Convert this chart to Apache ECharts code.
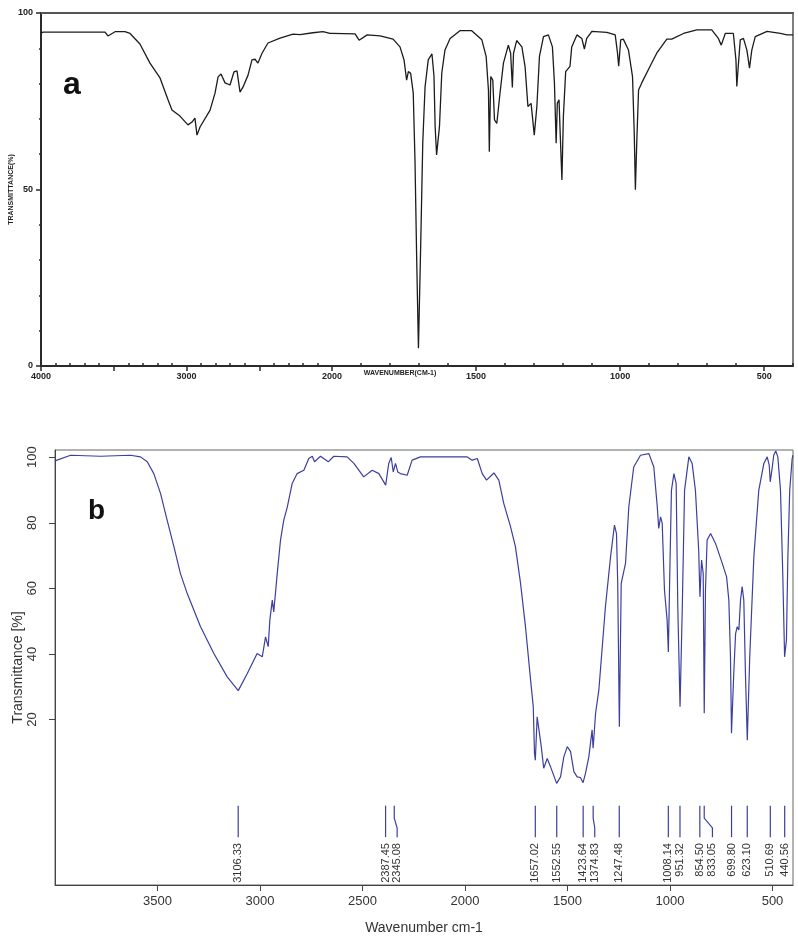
<!DOCTYPE html>
<html>
<head>
<meta charset="utf-8">
<title>IR spectra a / b</title>
<script src="https://cdn.jsdelivr.net/npm/echarts@6/dist/echarts.min.js"></script>
<style>
  html, body { margin: 0; padding: 0; background: #fff; }
  #main { width: 798px; height: 942px; }
</style>
</head>
<body>
<div id="main"></div>
<script>
// spectrum a (black), wavenumber cm-1 / transmittance %
const wnA = [4000, 3985, 3560, 3540, 3491, 3423, 3388, 3320, 3251, 3182, 3127, 3100, 3045, 2990, 2962, 2942, 2928, 2907, 2838, 2804,
  2783, 2763, 2735, 2701, 2674, 2653, 2632, 2612, 2577, 2550, 2529, 2509, 2481, 2440, 2357, 2268, 2220, 2131, 2062, 2014,
  2000, 1920, 1906, 1878, 1833, 1788, 1764, 1750, 1741, 1735, 1727, 1718, 1712, 1706, 1700, 1692, 1685, 1677, 1666, 1653,
  1646, 1642, 1637, 1627, 1619, 1608, 1590, 1556, 1515, 1480, 1465, 1457, 1454, 1449, 1442, 1436, 1428, 1417, 1405, 1388,
  1380, 1374, 1370, 1359, 1341, 1330, 1320, 1309, 1298, 1289, 1280, 1266, 1249, 1235, 1228, 1222, 1218, 1212, 1208, 1202,
  1197, 1189, 1174, 1168, 1150, 1133, 1124, 1116, 1098, 1046, 1017, 1009, 1005, 998, 989, 971, 957, 951, 947, 942,
  936, 925, 896, 873, 838, 821, 780, 734, 682, 659, 649, 635, 607, 598, 595, 590, 583, 572, 560, 551,
  543, 531, 490, 444, 421, 400];
const tA = [94.3, 94.6, 94.6, 93.5, 94.7, 94.7, 94.2, 91.2, 85.8, 81.6, 75.4, 72.5, 70.8, 68.3, 69.1, 70.2, 65.4, 67.7, 72.5, 77.3,
  81.9, 82.7, 80.2, 79.6, 83.3, 83.6, 77.6, 79, 82.4, 86.7, 86.9, 85.8, 88.6, 91.5, 92.9, 94, 93.9, 94.4, 94.7, 94.2,
  94.2, 94.1, 92.3, 93.8, 93.5, 92.6, 90.4, 86.7, 81, 83.4, 82.9, 77.3, 58.4, 30, 5, 34.8, 63.2, 79.1, 86.7, 88.4,
  82, 67.8, 59.8, 67.8, 83, 89.5, 92.8, 95, 95, 92.4, 87.7, 78.2, 60.7, 82, 81, 69.7, 68.7, 77.2, 85.8, 90.9,
  88.6, 78.9, 88.6, 92.2, 90.4, 84.9, 73.5, 74.4, 65.4, 73.5, 87.7, 93.3, 93.8, 90.4, 80.2, 63.1, 74.4, 75.4, 65.9, 52.7,
  70.6, 83.4, 84.9, 90.4, 93.8, 92.8, 89.8, 92.8, 94.8, 94.5, 93.8, 88.6, 84.9, 92.4, 92.6, 89.5, 82, 66, 49.9, 64,
  78.2, 80.2, 84.9, 88.6, 92.6, 92.6, 94.2, 95.2, 95.2, 92.8, 90.9, 94.2, 94.2, 86.7, 79.2, 84.9, 92.4, 92.8, 89.5, 84.4,
  89.5, 93.3, 94.8, 94.2, 93.8, 93.8];

// spectrum b (blue)
const wnB = [4000, 3924, 3778, 3632, 3583, 3550, 3518, 3485, 3453, 3420, 3388, 3355, 3290, 3225, 3160, 3106, 3062, 3014, 2989, 2973,
  2960, 2952, 2940, 2933, 2916, 2900, 2884, 2867, 2843, 2819, 2786, 2762, 2745, 2734, 2705, 2667, 2640, 2575, 2542, 2494,
  2453, 2420, 2387, 2372, 2360, 2350, 2339, 2328, 2315, 2282, 2258, 2217, 2087, 1989, 1965, 1940, 1916, 1895, 1859, 1835,
  1811, 1778, 1754, 1729, 1705, 1680, 1667, 1661, 1657, 1648, 1640, 1628, 1616, 1599, 1583, 1553, 1534, 1518, 1501, 1485,
  1469, 1453, 1437, 1424, 1412, 1396, 1380, 1375, 1363, 1347, 1315, 1290, 1271, 1261, 1255, 1247, 1238, 1217, 1201, 1177,
  1144, 1103, 1079, 1062, 1055, 1046, 1038, 1027, 1014, 1008, 1001, 993, 981, 970, 962, 951, 940, 929, 908, 892,
  876, 860, 854, 846, 838, 833, 827, 819, 802, 778, 745, 724, 713, 705, 700, 689, 680, 672, 664, 656,
  648, 640, 632, 623, 611, 591, 567, 542, 526, 516, 511, 501, 494, 484, 474, 461, 450, 441, 432, 425,
  416, 404, 400];
const tB = [98.9, 100.6, 100.3, 100.6, 100.1, 98.6, 95, 88.9, 80.8, 72.7, 64.5, 58.4, 48.3, 40.1, 33, 28.8, 34, 40.1, 39.1, 45.2,
  42.2, 50.3, 56.4, 52.8, 64.5, 74.7, 80.8, 84.8, 92, 95, 96, 99.6, 100.3, 98.6, 100.3, 98.6, 100.3, 100.1, 98.1, 94,
  96, 95, 91.5, 98.1, 99.9, 95.5, 98.1, 95.5, 95, 94.5, 99.1, 100.1, 100.1, 100.1, 99.1, 99.6, 95, 93, 95.2, 93,
  85.9, 78.8, 72.7, 61.5, 48.3, 32, 23.9, 9.7, 7.6, 20.8, 20.8, 11.7, 5.1, 8.1, 5.6, 0.5, 2.5, 8.6, 11.7, 10.2,
  4.1, 2.5, 2.3, 0.7, 3.6, 8.6, 16.8, 11.2, 21.9, 29, 54.4, 69.6, 79.3, 76.7, 61.5, 17.8, 61.5, 67.6, 84.8, 97,
  100.6, 101.1, 97, 84.8, 78.3, 81.8, 79.8, 59.5, 50.3, 40.6, 64.5, 89.9, 95, 92, 54.4, 23.9, 54.4, 89.9, 100.1, 98.1,
  89.9, 71.6, 57.4, 68.6, 64.5, 21.9, 59.5, 74.7, 76.7, 73.7, 67.6, 63.5, 56.4, 39.1, 15.8, 34, 46.2, 48.3, 47.3, 56.4,
  60.5, 56.4, 34, 13.7, 39.1, 69.6, 89.9, 98.1, 100.1, 97.6, 92.5, 97, 100.6, 101.9, 100.1, 89.9, 64.5, 39.1, 44.2, 69.6,
  89.9, 99.6, 100.6];

// picked peaks of b and where their labels sit
const peaksB = [3106.33, 2387.45, 2345.08, 1657.02, 1552.55, 1423.64, 1374.83, 1247.48, 1008.14, 951.32, 854.50, 833.05, 699.80, 623.10, 510.69, 440.56];
const peakLabelAtB = [3106.33, 2387.45, 2331, 1657.02, 1552.55, 1423.64, 1367, 1247.48, 1008.14, 951.32, 854.50, 793, 699.80, 623.10, 510.69, 440.56];

// tick labels
const ticksALeft = [4000, 3000, 2000];
const majorALeft = [4000, 3500, 3000, 2500, 2000];
const ticksARight = [1500, 1000, 500];
const ticksB = [3500, 3000, 2500, 2000, 1500, 1000, 500];
const yTicksB = [20, 40, 60, 80, 100];

const BLUE = '#3c3f9e';
const INK = '#1c1c1c';
const MARK_Y = [-6.3, -10.1, -13.1, -15.9, -17.7]; // peak marker: top, bend, bend, bottom, text

function minorTicks(from, to) {
  const out = [];
  for (let w = from; w <= to; w += 100) if (w % 500 !== 0) out.push(w);
  return out;
}
const plain = v => String(v);

const dataALeft = [], dataARight = [];
for (let i = 0; i < wnA.length; i++) {
  if (wnA[i] >= 2000) dataALeft.push([wnA[i], tA[i]]);
  if (wnA[i] <= 2000) dataARight.push([wnA[i], tA[i]]);
}
const dataB = wnB.map((w, i) => [w, tB[i]]);
const peakData = peaksB.map((p, i) => [p, peakLabelAtB[i]]);

const fontA = '"Liberation Sans", Arial, sans-serif';
const fontB = '"Liberation Sans", Arial, sans-serif';

function aAxes(grid, min, max, major, labels) {
  return [
    {
      gridIndex: grid, type: 'value', min: min, max: max, inverse: true, position: 'bottom',
      axisLine: { onZero: false, lineStyle: { color: '#2a2a2a', width: 2 } },
      axisTick: { customValues: major, length: 5, lineStyle: { color: '#2a2a2a', width: 1.5 } },
      axisLabel: { customValues: labels, formatter: plain, fontSize: 9, fontWeight: 'bold', color: '#222', margin: 6, fontFamily: fontA },
      splitLine: { show: false }
    },
    {
      gridIndex: grid, type: 'value', min: min, max: max, inverse: true, position: 'bottom',
      axisLine: { show: false, onZero: false },
      axisTick: { customValues: minorTicks(min, max), inside: true, length: 3, lineStyle: { color: '#2a2a2a', width: 1.5 } },
      axisLabel: { show: false },
      splitLine: { show: false }
    },
    {
      gridIndex: grid, type: 'value', min: min, max: max, inverse: true, position: 'top',
      axisLine: { onZero: false, lineStyle: { color: '#555', width: 2 } },
      axisTick: { show: false }, axisLabel: { show: false }, splitLine: { show: false }
    }
  ];
}

const chart = echarts.init(document.getElementById('main'), null, { renderer: 'canvas' });

const option = {
  backgroundColor: '#fff',
  animation: false,
  grid: [
    { left: 41, top: 13, width: 291, height: 353, outerBoundsMode: 'none', containLabel: false },
    { left: 332, top: 13, width: 461, height: 353, outerBoundsMode: 'none', containLabel: false },
    { left: 55, top: 450, width: 738, height: 435, outerBoundsMode: 'none', containLabel: false,
      show: true, borderColor: '#666', borderWidth: 1 }
  ],
  xAxis: [
    ...aAxes(0, 2000, 4000, majorALeft, ticksALeft),
    ...aAxes(1, 400, 2000, ticksARight, ticksARight),
    {
      gridIndex: 2, type: 'value', min: 400, max: 4000, inverse: true,
      axisLine: { onZero: false, lineStyle: { color: '#444', width: 1 } },
      axisTick: { customValues: ticksB, length: 6, lineStyle: { color: '#444' } },
      axisLabel: { customValues: ticksB, formatter: plain, fontSize: 13, color: '#333', margin: 10, fontFamily: fontB },
      splitLine: { show: false },
      name: 'Wavenumber cm-1', nameLocation: 'middle', nameGap: 36,
      nameTextStyle: { fontSize: 14, color: '#333', fontFamily: fontB }
    }
  ],
  yAxis: [
    {
      gridIndex: 0, type: 'value', min: 0, max: 100, interval: 50, position: 'left',
      axisLine: { onZero: false, lineStyle: { color: '#2a2a2a', width: 2 } },
      axisTick: { length: 5, lineStyle: { color: '#2a2a2a', width: 1.5 } },
      minorTick: { show: true, splitNumber: 5, length: 2, lineStyle: { color: '#2a2a2a', width: 1.5 } },
      axisLabel: { fontSize: 9, fontWeight: 'bold', color: '#222', margin: 8, fontFamily: fontA },
      splitLine: { show: false },
      name: 'TRANSMITTANCE(%)', nameLocation: 'middle', nameGap: 25,
      nameTextStyle: { fontSize: 7, fontWeight: 'bold', color: '#222', fontFamily: fontA }
    },
    {
      gridIndex: 1, type: 'value', min: 0, max: 100, position: 'right',
      axisLine: { show: true, onZero: false, lineStyle: { color: '#555', width: 1.5 } },
      axisTick: { show: false }, axisLabel: { show: false }, splitLine: { show: false }
    },
    {
      gridIndex: 2, type: 'value', min: -30.5, max: 102.2,
      axisLine: { show: true, onZero: false, lineStyle: { color: '#444', width: 1 } },
      axisTick: { customValues: yTicksB, length: 6, lineStyle: { color: '#444' } },
      axisLabel: { customValues: yTicksB, rotate: 90, fontSize: 13, color: '#333', margin: 16, fontFamily: fontB },
      splitLine: { show: false },
      name: 'Transmittance [%]', nameLocation: 'middle', nameGap: 30, nameMoveOverlap: false,
      nameTextStyle: { fontSize: 14, color: '#333', fontFamily: fontB }
    }
  ],
  series: [
    {
      type: 'line', xAxisIndex: 0, yAxisIndex: 0, data: dataALeft, showSymbol: false,
      lineStyle: { color: INK, width: 1.3 }
    },
    {
      type: 'line', xAxisIndex: 3, yAxisIndex: 1, data: dataARight, showSymbol: false,
      lineStyle: { color: INK, width: 1.3 }
    },
    {
      type: 'line', xAxisIndex: 6, yAxisIndex: 2, data: dataB, showSymbol: false,
      lineStyle: { color: BLUE, width: 1.2 }
    },
    {
      type: 'custom', xAxisIndex: 6, yAxisIndex: 2, data: peakData, clip: false,
      renderItem: function (params, api) {
        const peak = api.value(0), at = api.value(1);
        const p0 = api.coord([peak, MARK_Y[0]]);
        const p1 = api.coord([peak, MARK_Y[1]]);
        const p2 = api.coord([at, MARK_Y[2]]);
        const p3 = api.coord([at, MARK_Y[3]]);
        const t = api.coord([at, MARK_Y[4]]);
        return {
          type: 'group',
          children: [
            { type: 'polyline', shape: { points: [p0, p1, p2, p3] }, style: { stroke: BLUE, lineWidth: 1.2, fill: null } },
            {
              type: 'text', x: t[0], y: t[1], rotation: Math.PI / 2,
              style: { text: peak.toFixed(2), align: 'right', verticalAlign: 'middle', font: '11px ' + fontB, fill: '#333' }
            }
          ]
        };
      }
    }
  ],
  graphic: [
    { type: 'text', x: 63, y: 85, style: { text: 'a', font: 'bold 32px ' + fontA, fill: '#111', verticalAlign: 'middle' } },
    { type: 'text', x: 88, y: 511, style: { text: 'b', font: 'bold 28px ' + fontB, fill: '#111', verticalAlign: 'middle' } },
    { type: 'text', x: 400, y: 373, style: { text: 'WAVENUMBER(CM-1)', font: 'bold 7px ' + fontA, fill: '#222', align: 'center', verticalAlign: 'middle' } }
  ]
};

chart.setOption(option);
</script>
</body>
</html>
